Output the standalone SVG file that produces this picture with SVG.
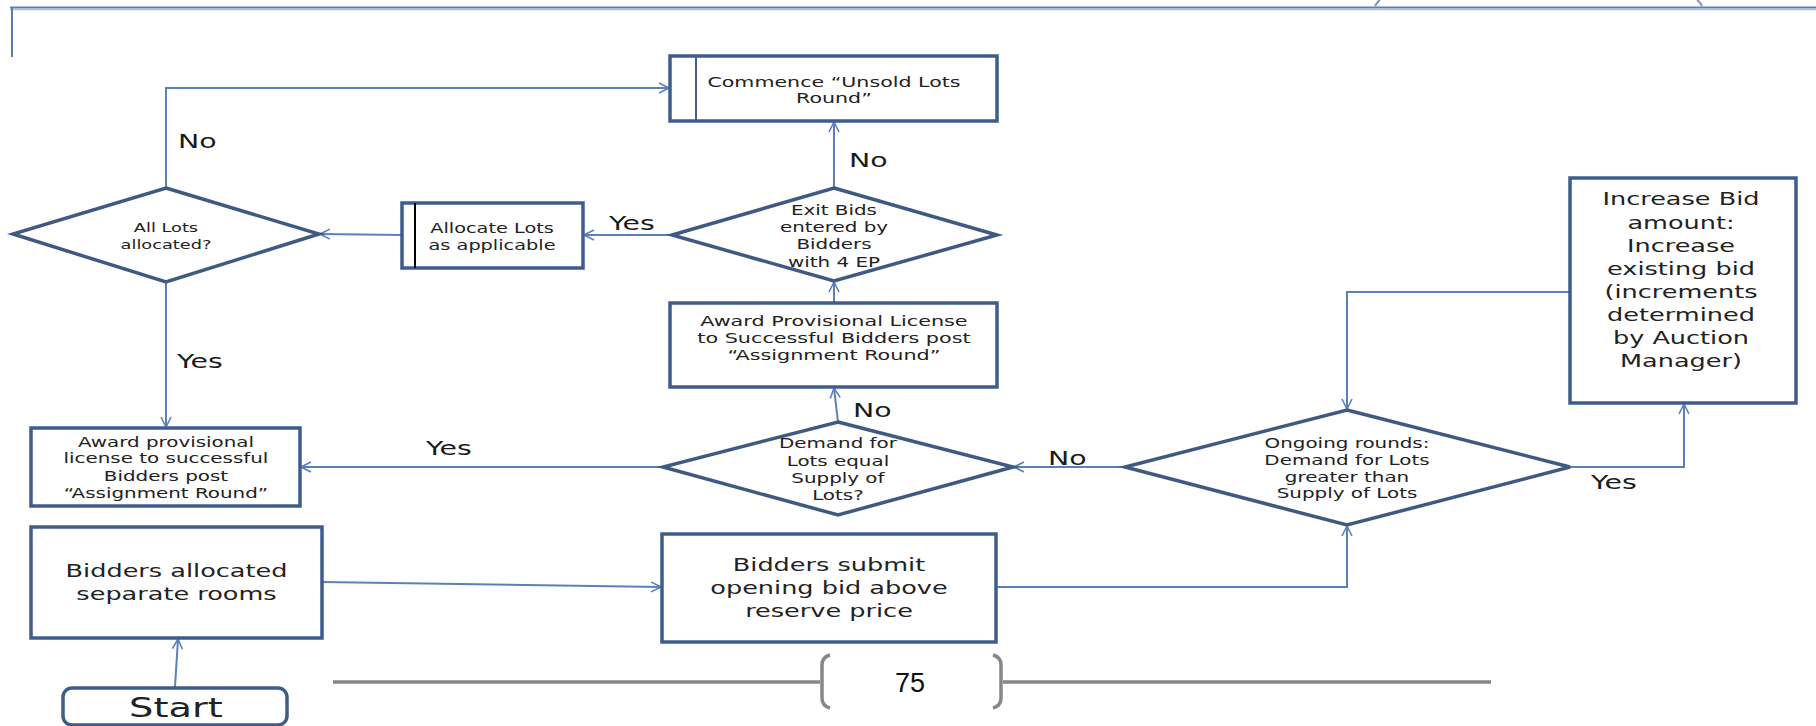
<svg xmlns="http://www.w3.org/2000/svg" width="1816" height="726" viewBox="0 0 1816 726">
<defs>
<style>
.box{fill:#fff;stroke:#3e5d8c;stroke-width:3.5}
.dia{fill:#fff;stroke:#3e5a82;stroke-width:3.5}
.con{fill:none;stroke:#5b80b8;stroke-width:2}
.t{font-family:"DejaVu Sans",sans-serif;fill:#222;text-anchor:middle}
.lab{font-family:"DejaVu Sans",sans-serif;fill:#1a1a1a;font-size:20px}
.frame{fill:none;stroke:#5b7db0;stroke-width:2}
.gray{fill:none;stroke:#878787;stroke-width:3.5}
</style>
<marker id="arr" viewBox="0 0 12 12" refX="11" refY="6" markerWidth="12" markerHeight="12" markerUnits="userSpaceOnUse" orient="auto">
<path d="M1,1 L11,6 L1,11" fill="none" stroke="#5b80b8" stroke-width="1.6"/>
</marker>
</defs>
<rect width="1816" height="726" fill="#fff"/>
<g id="frame">
<line x1="10" y1="7.5" x2="1816" y2="7.5" class="frame"/>
<line x1="10" y1="9.5" x2="1816" y2="9.5" stroke="#a9c0e2" stroke-width="1.5"/>
<line x1="12" y1="7.5" x2="12" y2="57" class="frame"/>
<path d="M1375,6 Q1377,2 1380,0" fill="none" stroke="#7f93b3" stroke-width="2"/>
<path d="M1697,0 Q1700,2 1702,6" fill="none" stroke="#7f93b3" stroke-width="2"/>
</g>
<g id="connectors">
<path class="con" d="M175,687 L178,639" marker-end="url(#arr)"/>
<path class="con" d="M322,582 L661,587" marker-end="url(#arr)"/>
<path class="con" d="M996,587 L1347,587 L1347,526" marker-end="url(#arr)"/>
<path class="con" d="M1570,467 L1684,467 L1684,404" marker-end="url(#arr)"/>
<path class="con" d="M1570,292 L1347,292 L1347,409" marker-end="url(#arr)"/>
<path class="con" d="M1125,467 L1014,467" marker-end="url(#arr)"/>
<path class="con" d="M663,467 L301,467" marker-end="url(#arr)"/>
<path class="con" d="M838,422 L834,388" marker-end="url(#arr)"/>
<path class="con" d="M834,303 L834,282" marker-end="url(#arr)"/>
<path class="con" d="M834,188 L834,122" marker-end="url(#arr)"/>
<path class="con" d="M672,235 L584,235" marker-end="url(#arr)"/>
<path class="con" d="M402,235 L320,234" marker-end="url(#arr)"/>
<path class="con" d="M166,188 L166,88 L669,88" marker-end="url(#arr)"/>
<path class="con" d="M166,282 L166,427" marker-end="url(#arr)"/>
</g>
<g id="footer">
<line x1="333" y1="682" x2="820" y2="682" class="gray"/>
<line x1="1003" y1="682" x2="1491" y2="682" class="gray"/>
<path class="gray" d="M830,655 Q822,657 822,665 L822,698 Q822,706 830,708"/>
<path class="gray" d="M993,655 Q1001,657 1001,665 L1001,698 Q1001,706 993,708"/>
<text x="910" y="692" font-family="Liberation Sans, sans-serif" font-size="27" fill="#111" text-anchor="middle">75</text>
</g>
<g id="n-commence"><rect class="box" x="670" y="56" width="327" height="65"/><line x1="696" y1="56" x2="696" y2="121" stroke="#3e5d8c" stroke-width="2"/></g>
<g id="n-exit"><polygon class="dia" points="834,188 997,235 834,281 672,235"/></g>
<g id="n-allocate"><rect class="box" x="402" y="203" width="181" height="65"/><line x1="415" y1="203" x2="415" y2="268" stroke="#000" stroke-width="2"/></g>
<g id="n-alllots"><polygon class="dia" points="166,188 319,234 166,282 13,234"/></g>
<g id="n-awardmid"><rect class="box" x="670" y="303" width="327" height="84"/></g>
<g id="n-demand"><polygon class="dia" points="838,422 1013,467 838,515 663,467"/></g>
<g id="n-ongoing"><polygon class="dia" points="1347,410 1570,467 1347,525 1125,467"/></g>
<g id="n-increase"><rect class="box" x="1570" y="178" width="226" height="225"/></g>
<g id="n-awardleft"><rect class="box" x="31" y="428" width="269" height="78"/></g>
<g id="n-allocated"><rect class="box" x="31" y="527" width="291" height="111"/></g>
<g id="n-submit"><rect class="box" x="662" y="534" width="334" height="108"/></g>
<g id="n-start"><rect class="box" x="63" y="688" width="224" height="37" rx="9"/></g>
<g id="texts" transform="scale(1.42,1)">
<text class="t" font-size="14.5" x="587.3" y="87">Commence “Unsold Lots</text>
<text class="t" font-size="14.5" x="587.3" y="103">Round”</text>
<text class="t" font-size="14" x="587.3" y="215">Exit Bids</text>
<text class="t" font-size="14" x="587.3" y="232">entered by</text>
<text class="t" font-size="14" x="587.3" y="249">Bidders</text>
<text class="t" font-size="14" x="587.3" y="267">with 4 EP</text>
<text class="t" font-size="12.5" x="116.9" y="232">All Lots</text>
<text class="t" font-size="12.5" x="116.9" y="249">allocated?</text>
<text class="t" font-size="13.6" x="346.5" y="233">Allocate Lots</text>
<text class="t" font-size="13.6" x="346.5" y="250">as applicable</text>
<text class="t" font-size="14.6" x="587.3" y="326">Award Provisional License</text>
<text class="t" font-size="14.6" x="587.3" y="343">to Successful Bidders post</text>
<text class="t" font-size="14.6" x="587.3" y="360">“Assignment Round”</text>
<text class="t" font-size="14" x="590.1" y="448">Demand for</text>
<text class="t" font-size="14" x="590.1" y="466">Lots equal</text>
<text class="t" font-size="14" x="590.1" y="483">Supply of</text>
<text class="t" font-size="14" x="590.1" y="500">Lots?</text>
<text class="t" font-size="14" x="116.9" y="447">Award provisional</text>
<text class="t" font-size="14" x="116.9" y="463">license to successful</text>
<text class="t" font-size="14" x="116.9" y="481">Bidders post</text>
<text class="t" font-size="14" x="116.9" y="498">“Assignment Round”</text>
<text class="t" font-size="18" x="124.3" y="577">Bidders allocated</text>
<text class="t" font-size="18" x="124.3" y="600">separate  rooms</text>
<text class="t" font-size="18" x="583.8" y="571">Bidders submit</text>
<text class="t" font-size="18" x="583.8" y="594">opening bid above</text>
<text class="t" font-size="18" x="583.8" y="617">reserve price</text>
<text class="t" font-size="14" x="948.6" y="448">Ongoing rounds:</text>
<text class="t" font-size="14" x="948.6" y="465">Demand for Lots</text>
<text class="t" font-size="14" x="948.6" y="482">greater than</text>
<text class="t" font-size="14" x="948.6" y="498">Supply of Lots</text>
<text class="t" font-size="18" x="1183.8" y="205">Increase Bid</text>
<text class="t" font-size="18" x="1183.8" y="229">amount:</text>
<text class="t" font-size="18" x="1183.8" y="252">Increase</text>
<text class="t" font-size="18" x="1183.8" y="275">existing bid</text>
<text class="t" font-size="18" x="1183.8" y="298">(increments</text>
<text class="t" font-size="18" x="1183.8" y="321">determined</text>
<text class="t" font-size="18" x="1183.8" y="344">by Auction</text>
<text class="t" font-size="18" x="1183.8" y="367">Manager)</text>
<text class="t" font-size="27" x="123.9" y="717">Start</text>
<text class="lab" x="125.4" y="148">No</text>
<text class="lab" x="597.9" y="167">No</text>
<text class="lab" x="428.9" y="230">Yes</text>
<text class="lab" x="124.6" y="368">Yes</text>
<text class="lab" x="300" y="455">Yes</text>
<text class="lab" x="600.7" y="417">No</text>
<text class="lab" x="738" y="465">No</text>
<text class="lab" x="1120.4" y="489">Yes</text>
</g>
</svg>
